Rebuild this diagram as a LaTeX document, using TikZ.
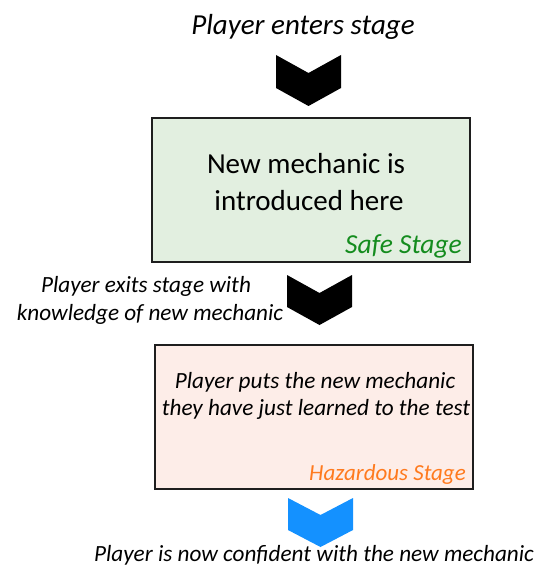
\documentclass[tikz,border=0pt]{standalone}
\usepackage{fontspec}
\setmainfont{Carlito}
\definecolor{safefill}{RGB}{226,239,224}
\definecolor{hazfill}{RGB}{253,237,232}
\definecolor{boxline}{RGB}{30,30,30}
\definecolor{safegreen}{RGB}{20,140,30}
\definecolor{hazorange}{RGB}{255,122,30}
\definecolor{chevblue}{RGB}{20,145,255}
\newcommand{\chevron}[6]{% left, right, top, notch, side, apex
  \fill[#6] (#1,#3) -- ({(#1+#2)/2},#4) -- (#2,#3) -- (#2,#5) -- ({(#1+#2)/2},#5+#4-#3) -- (#1,#5) -- cycle;}
\tikzset{
  stagebox/.style={draw=boxline, line width=1.5pt, minimum width=318pt, minimum height=144pt, inner sep=0pt},
  bigtxt/.style={font=\fontsize{29}{34}\selectfont, anchor=base, inner sep=0pt},
  midtxt/.style={font=\itshape\fontsize{23.2}{28}\selectfont, anchor=base, inner sep=0pt},
  labtxt/.style={font=\itshape\fontsize{27.5}{30}\selectfont, anchor=base east, inner sep=0pt},
}
\begin{document}
\begin{tikzpicture}[x=1pt,y=-1pt]
\useasboundingbox (0,0) rectangle (537,567);
% title
\node[bigtxt, font=\itshape\fontsize{29}{34}\selectfont] (title) at (303,35) {Player enters stage};
% chevron 1
\chevron{276}{341}{55}{73}{88}{black}
% safe box
\node[stagebox, fill=safefill] (safe) at (311,190) {};
\node[bigtxt] (safel1) at (306,173) {New mechanic is};
\node[bigtxt] (safel2) at (309,210) {introduced here};
\node[labtxt, text=safegreen] (safelab) at (462,253) {Safe Stage};
% exit text
\node[midtxt] (exit1) at (146,292) {Player exits stage with};
\node[midtxt] (exit2) at (150,320) {knowledge of new mechanic};
% chevron 2
\chevron{287}{352}{275}{293}{307}{black}
% hazardous box
\node[stagebox, fill=hazfill] (haz) at (314,417) {};
\node[midtxt] (hazl1) at (315,388) {Player puts the new mechanic};
\node[midtxt] (hazl2) at (316,415) {they have just learned to the test};
\node[labtxt, font=\itshape\fontsize{23}{28}\selectfont, text=hazorange] (hazlab) at (466,480) {Hazardous Stage};
% chevron 3
\chevron{288}{353}{498}{515}{530}{chevblue}
% final text
\node[midtxt] (final) at (314,561) {Player is now confident with the new mechanic};
\end{tikzpicture}
\end{document}
